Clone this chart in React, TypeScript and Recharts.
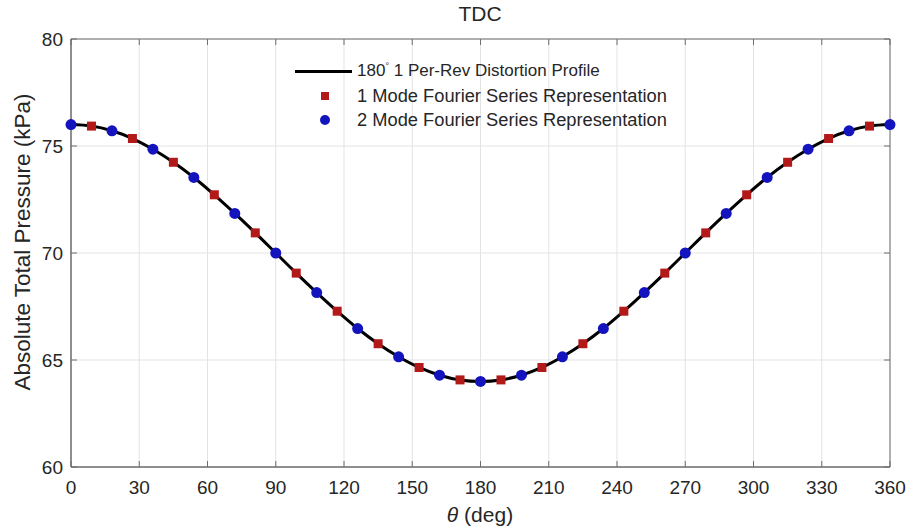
import React from 'react';
import {
  ComposedChart,
  Line,
  Scatter,
  XAxis,
  YAxis,
  CartesianGrid,
  ReferenceArea,
} from 'recharts';

// circumferential position (deg) and absolute total pressure (kPa)
const lineTheta = [
  0, 9, 18, 27, 36, 45, 54, 63, 72, 81, 90, 99, 108, 117, 126, 135, 144, 153, 162, 171, 180,
  189, 198, 207, 216, 225, 234, 243, 252, 261, 270, 279, 288, 297, 306, 315, 324, 333, 342, 351, 360,
];
const linePressure = [
  76.0, 75.93, 75.71, 75.35, 74.85, 74.24, 73.53, 72.72, 71.85, 70.94, 70.0, 69.06, 68.15, 67.28,
  66.47, 65.76, 65.15, 64.65, 64.29, 64.07, 64.0, 64.07, 64.29, 64.65, 65.15, 65.76, 66.47, 67.28,
  68.15, 69.06, 70.0, 70.94, 71.85, 72.72, 73.53, 74.24, 74.85, 75.35, 75.71, 75.93, 76.0,
];

const mode1Theta = [9, 27, 45, 63, 81, 99, 117, 135, 153, 171, 189, 207, 225, 243, 261, 279, 297, 315, 333, 351];
const mode1Pressure = [
  75.93, 75.35, 74.24, 72.72, 70.94, 69.06, 67.28, 65.76, 64.65, 64.07,
  64.07, 64.65, 65.76, 67.28, 69.06, 70.94, 72.72, 74.24, 75.35, 75.93,
];

const mode2Theta = [0, 18, 36, 54, 72, 90, 108, 126, 144, 162, 180, 198, 216, 234, 252, 270, 288, 306, 324, 342, 360];
const mode2Pressure = [
  76.0, 75.71, 74.85, 73.53, 71.85, 70.0, 68.15, 66.47, 65.15, 64.29, 64.0,
  64.29, 65.15, 66.47, 68.15, 70.0, 71.85, 73.53, 74.85, 75.71, 76.0,
];

const xTicks = [0, 30, 60, 90, 120, 150, 180, 210, 240, 270, 300, 330, 360];
const yTicks = [60, 65, 70, 75, 80];

const W = 912;
const H = 531;
const X_AXIS_H = 30;
const MARGIN = { top: 39, right: 22, bottom: 64 - X_AXIS_H, left: 0 };
const Y_AXIS_W = 71;
const PLOT_TOP = MARGIN.top;
const PLOT_BOTTOM = H - 64;
const PLOT_LEFT = MARGIN.left + Y_AXIS_W;
const PLOT_RIGHT = W - MARGIN.right;

const FONT = '"Liberation Sans", Arial, Helvetica, sans-serif';
const TEXT = '#262626';
const AXIS = '#6e6e6e';
const RED = '#B21A1A';
const BLUE = '#1414BE';

const lineData = lineTheta.map((t, i) => ({ theta: t, p: linePressure[i] }));
const mode1Data = mode1Theta.map((t, i) => ({ theta: t, p: mode1Pressure[i] }));
const mode2Data = mode2Theta.map((t, i) => ({ theta: t, p: mode2Pressure[i] }));

const XTick = ({ x, payload }: any) => (
  <g>
    <line x1={x} x2={x} y1={PLOT_BOTTOM} y2={PLOT_BOTTOM - 6} stroke={AXIS} />
    <line x1={x} x2={x} y1={PLOT_TOP} y2={PLOT_TOP + 6} stroke={AXIS} />
    <text x={x} y={PLOT_BOTTOM + 27} textAnchor="middle" fill={TEXT} fontSize={19} fontFamily={FONT}>
      {payload.value}
    </text>
  </g>
);

const YTick = ({ y, payload }: any) => (
  <g>
    <line x1={PLOT_LEFT} x2={PLOT_LEFT + 6} y1={y} y2={y} stroke={AXIS} />
    <line x1={PLOT_RIGHT} x2={PLOT_RIGHT - 6} y1={y} y2={y} stroke={AXIS} />
    <text x={PLOT_LEFT - 8} y={y + 7} textAnchor="end" fill={TEXT} fontSize={19} fontFamily={FONT}>
      {payload.value}
    </text>
  </g>
);

const SquareMark = ({ cx, cy }: any) => (
  <rect x={cx - 4.5} y={cy - 4.5} width={9} height={9} fill={RED} />
);

const CircleMark = ({ cx, cy }: any) => <circle cx={cx} cy={cy} r={5.5} fill={BLUE} />;

export default function App() {
  return (
    <div style={{ position: 'absolute', left: 0, top: 0, width: W, height: H, background: '#fff', fontFamily: FONT }}>
      <ComposedChart width={W} height={H} margin={MARGIN}>
        <CartesianGrid stroke="#e3e3e3" horizontalValues={yTicks} verticalValues={xTicks} />
        <XAxis
          dataKey="theta"
          type="number"
          domain={[0, 360]}
          ticks={xTicks}
          height={X_AXIS_H}
          tick={<XTick />}
          tickLine={false}
          axisLine={{ stroke: AXIS }}
          allowDuplicatedCategory={false}
        />
        <YAxis
          dataKey="p"
          type="number"
          domain={[60, 80]}
          ticks={yTicks}
          width={Y_AXIS_W}
          tick={<YTick />}
          tickLine={false}
          axisLine={{ stroke: AXIS }}
        />
        <ReferenceArea x1={0} x2={360} y1={60} y2={80} fill="none" stroke={AXIS} strokeWidth={1} />
        <Line
          data={lineData}
          dataKey="p"
          type="monotone"
          stroke="#000"
          strokeWidth={3}
          dot={false}
          isAnimationActive={false}
        />
        <Scatter data={mode1Data} dataKey="p" shape={<SquareMark />} isAnimationActive={false} />
        <Scatter data={mode2Data} dataKey="p" shape={<CircleMark />} isAnimationActive={false} />
      </ComposedChart>

      <div style={{ position: 'absolute', left: 380, width: 200, top: 2, textAlign: 'center', fontSize: 21, color: TEXT }}>
        TDC
      </div>

      <div style={{ position: 'absolute', left: 380, width: 200, top: 503, textAlign: 'center', fontSize: 21, color: TEXT }}>
        <i>θ</i> (deg)
      </div>

      <div
        style={{
          position: 'absolute',
          left: 23,
          top: 242,
          transform: 'translate(-50%, -50%) rotate(-90deg)',
          whiteSpace: 'nowrap',
          fontSize: 22.5,
          color: TEXT,
        }}
      >
        Absolute Total Pressure (kPa)
      </div>

      <div style={{ position: 'absolute', left: 295, top: 59, color: TEXT }}>
        <div style={{ display: 'flex', alignItems: 'center', height: 24 }}>
          <span style={{ display: 'inline-block', width: 57, height: 3, background: '#000', marginRight: 5 }} />
          <span style={{ fontSize: 17 }}>
            180<sup style={{ fontSize: 9 }}>°</sup> 1 Per-Rev Distortion Profile
          </span>
        </div>
        <div style={{ display: 'flex', alignItems: 'center', height: 25 }}>
          <span style={{ display: 'inline-block', width: 62, position: 'relative', height: 10 }}>
            <span style={{ position: 'absolute', left: 26, top: 1, width: 8, height: 8, background: RED }} />
          </span>
          <span style={{ fontSize: 18.3 }}>1 Mode Fourier Series Representation</span>
        </div>
        <div style={{ display: 'flex', alignItems: 'center', height: 24 }}>
          <span style={{ display: 'inline-block', width: 62, position: 'relative', height: 10 }}>
            <span style={{ position: 'absolute', left: 25, top: 0, width: 10, height: 10, borderRadius: 5, background: BLUE }} />
          </span>
          <span style={{ fontSize: 18.3 }}>2 Mode Fourier Series Representation</span>
        </div>
      </div>
    </div>
  );
}
